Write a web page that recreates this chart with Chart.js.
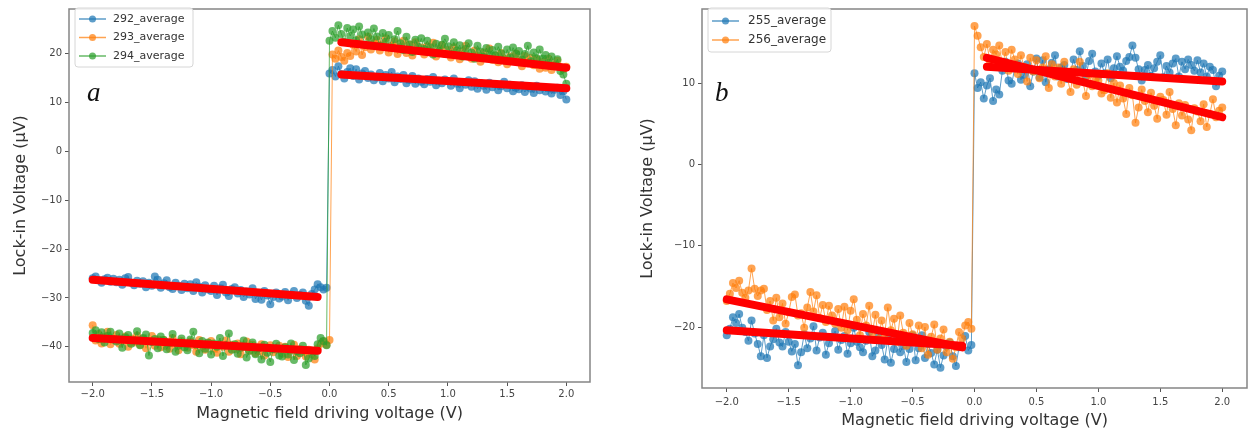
<!DOCTYPE html>
<html>
<head>
<meta charset="utf-8">
<script src="https://cdn.jsdelivr.net/npm/chart.js@4.4.0/dist/chart.umd.min.js"></script>
<style>
  html, body { margin: 0; padding: 0; background: #fff; }
  #wrap { position: relative; width: 1253px; height: 436px; }
  #painel-a { position: absolute; left: 0; top: 0; }
  #painel-b { position: absolute; left: 630px; top: 0; }
</style>
</head>
<body>
<div id="wrap">
  <canvas id="painel-a" width="610" height="436"></canvas>
  <canvas id="painel-b" width="623" height="436"></canvas>
</div>
<script>
// tensão de varredura do campo (V)
const campo = [
  -2.000, -1.975, -1.950, -1.925, -1.900, -1.875, -1.850, -1.825,
  -1.800, -1.775, -1.750, -1.725, -1.700, -1.675, -1.650, -1.625,
  -1.600, -1.575, -1.550, -1.525, -1.500, -1.475, -1.450, -1.425,
  -1.400, -1.375, -1.350, -1.325, -1.300, -1.275, -1.250, -1.225,
  -1.200, -1.175, -1.150, -1.125, -1.100, -1.075, -1.050, -1.025,
  -1.000, -0.975, -0.950, -0.925, -0.900, -0.875, -0.850, -0.825,
  -0.800, -0.775, -0.750, -0.725, -0.700, -0.675, -0.650, -0.625,
  -0.600, -0.575, -0.550, -0.525, -0.500, -0.475, -0.450, -0.425,
  -0.400, -0.375, -0.350, -0.325, -0.300, -0.275, -0.250, -0.225,
  -0.200, -0.175, -0.150, -0.125, -0.100, -0.075, -0.050, -0.025,
  0.000, 0.025, 0.050, 0.075, 0.100, 0.125, 0.150, 0.175,
  0.200, 0.225, 0.250, 0.275, 0.300, 0.325, 0.350, 0.375,
  0.400, 0.425, 0.450, 0.475, 0.500, 0.525, 0.550, 0.575,
  0.600, 0.625, 0.650, 0.675, 0.700, 0.725, 0.750, 0.775,
  0.800, 0.825, 0.850, 0.875, 0.900, 0.925, 0.950, 0.975,
  1.000, 1.025, 1.050, 1.075, 1.100, 1.125, 1.150, 1.175,
  1.200, 1.225, 1.250, 1.275, 1.300, 1.325, 1.350, 1.375,
  1.400, 1.425, 1.450, 1.475, 1.500, 1.525, 1.550, 1.575,
  1.600, 1.625, 1.650, 1.675, 1.700, 1.725, 1.750, 1.775,
  1.800, 1.825, 1.850, 1.875, 1.900, 1.925, 1.950, 1.975,
  2.000
];

// painel a — tensão lock-in (µV)
const m292 = [
  -26.0, -25.6, -26.4, -26.9, -26.2, -25.9, -26.7, -26.1,
  -26.8, -26.3, -27.3, -26.0, -25.7, -26.9, -27.4, -26.5,
  -27.1, -26.6, -27.8, -26.9, -27.5, -25.6, -26.3, -27.9,
  -27.0, -26.4, -27.8, -28.2, -26.9, -27.5, -28.4, -27.1,
  -28.0, -27.2, -28.6, -26.8, -27.7, -28.9, -27.4, -28.3,
  -28.6, -27.5, -29.4, -28.0, -27.3, -28.9, -29.6, -28.2,
  -27.8, -29.1, -28.4, -29.8, -28.7, -29.3, -28.0, -30.2,
  -29.0, -30.4, -28.6, -29.5, -31.3, -29.8, -28.9, -30.1,
  -29.7, -28.8, -30.5, -29.3, -28.6, -30.0, -29.4, -28.9,
  -30.6, -31.6, -29.2, -28.3, -27.2, -27.8, -28.3, -27.9,
  15.9, 16.6, 15.3, 17.4, 15.8, 14.9, 16.2, 17.0,
  15.4, 16.8, 14.7, 15.9, 16.4, 15.0, 15.7, 14.5,
  15.1, 16.0, 14.3, 15.6, 14.9, 16.2, 14.1, 15.3,
  14.8, 15.6, 13.9, 14.6, 15.4, 13.8, 14.9, 14.2,
  13.7, 14.8, 14.2, 15.2, 13.5, 14.4, 13.9, 14.7,
  14.3, 13.4, 14.9, 13.8, 12.9, 14.1, 13.6, 14.5,
  13.2, 14.3, 12.8, 13.9, 13.4, 12.6, 14.0, 13.1,
  13.7, 12.5, 13.3, 14.2, 12.9, 13.6, 12.3, 13.0,
  12.7, 13.5, 12.1, 13.2, 12.8, 11.9, 13.4, 12.5,
  13.1, 12.2, 12.9, 11.8, 12.6, 13.0, 11.5, 12.3,
  10.6
];
const m293 = [
  -35.6, -38.7, -37.4, -39.3, -38.0, -36.9, -39.5, -38.3,
  -37.6, -39.4, -38.8, -37.9, -40.0, -38.3, -39.1, -37.7,
  -39.6, -38.4, -40.3, -38.9, -37.8, -39.8, -38.5, -40.1,
  -38.6, -39.9, -40.4, -38.2, -39.5, -40.7, -38.8, -39.4,
  -40.2, -38.9, -39.7, -41.0, -38.6, -39.9, -40.6, -39.2,
  -38.8, -40.4, -41.2, -39.5, -40.0, -38.7, -41.0, -39.6,
  -40.5, -39.3, -41.5, -40.1, -38.9, -40.8, -39.6, -41.3,
  -40.9, -39.5, -41.8, -40.2, -39.7, -41.1, -40.6, -39.8,
  -41.4, -40.0, -42.1, -40.7, -39.6, -41.9, -40.5, -41.0,
  -42.0, -40.6, -41.5, -42.6, -40.3, -39.4, -38.9, -39.6,
  -38.6, 19.8, 18.9, 20.6, 19.3, 18.5, 20.1, 19.5,
  21.8, 20.4, 22.9, 19.7, 21.3, 23.4, 20.8, 22.1,
  22.8, 20.6, 21.9, 23.1, 20.2, 21.6, 22.5, 19.9,
  21.4, 22.6, 20.1, 21.8, 19.6, 22.3, 20.7, 21.2,
  19.8, 21.5, 20.6, 22.2, 19.4, 20.9, 21.7, 19.9,
  20.7, 19.2, 21.3, 20.1, 18.8, 20.5, 21.6, 19.4,
  18.9, 20.6, 19.5, 18.3, 20.2, 19.0, 21.0, 18.7,
  19.6, 18.2, 20.1, 18.9, 17.8, 19.4, 18.5, 20.0,
  18.6, 17.4, 19.5, 18.0, 19.1, 17.6, 18.8, 16.9,
  18.3, 17.1, 18.9, 16.6, 17.8, 18.5, 17.2, 16.8,
  17.3
];
const m294 = [
  -37.2, -36.6, -38.4, -37.0, -39.1, -37.8, -36.9, -38.5,
  -38.9, -37.3, -40.2, -38.1, -37.6, -39.4, -38.7, -36.8,
  -39.7, -38.2, -37.5, -41.8, -39.0, -38.4, -40.3, -37.9,
  -38.6, -40.5, -39.2, -37.4, -41.0, -39.8, -38.3, -40.1,
  -40.7, -38.5, -36.9, -39.6, -41.3, -38.8, -40.4, -39.1,
  -41.6, -39.3, -40.0, -38.2, -41.9, -39.7, -37.3, -40.6,
  -39.5, -41.4, -40.2, -38.7, -42.2, -40.8, -39.1, -41.5,
  -40.3, -42.6, -39.6, -41.2, -43.1, -40.5, -39.4, -41.8,
  -42.0, -40.1, -41.6, -39.3, -42.7, -40.9, -41.3, -39.8,
  -43.7, -42.4, -40.8, -41.9, -39.5, -38.2, -38.8, -39.7,
  22.6, 24.6, 23.2, 25.8, 24.0, 22.4, 25.2, 23.6,
  24.9, 22.7, 25.5, 23.9, 21.8, 24.3, 22.9, 25.1,
  23.5, 21.6, 24.2, 22.4, 23.8, 21.2, 22.9, 24.6,
  22.1, 20.7, 23.4, 21.9, 20.3, 22.8, 21.4, 23.1,
  20.9, 22.6, 21.3, 19.8, 22.0, 20.5, 21.8, 23.0,
  21.5, 19.9, 22.3, 20.6, 21.7, 19.4, 20.9, 22.1,
  20.2, 18.9, 21.6, 20.4, 19.3, 21.1, 19.8, 20.7,
  19.6, 21.4, 20.0, 18.6, 20.8, 19.2, 21.2, 19.9,
  20.5, 18.7, 19.9, 21.6, 18.4, 20.2, 19.0, 20.8,
  18.9, 19.7, 18.1, 19.4, 17.5, 18.8, 16.4, 15.7,
  13.8
];

// painel b
const m255 = [
  -21.0, -20.2, -18.8, -19.5, -18.4, -20.1, -20.6, -21.7,
  -19.2, -20.8, -22.1, -23.6, -21.0, -23.8, -22.4, -21.5,
  -20.2, -21.9, -22.4, -20.6, -21.8, -23.0, -22.1, -24.7,
  -23.1, -20.9, -22.6, -21.4, -19.9, -22.9, -21.3, -20.7,
  -23.4, -22.0, -21.2, -20.5, -22.8, -21.6, -21.1, -23.3,
  -22.0, -20.1, -21.8, -22.5, -23.1, -21.7, -20.6, -23.6,
  -22.9, -20.8, -22.2, -24.0, -21.5, -24.4, -22.7, -21.4,
  -23.1, -22.3, -24.3, -22.7, -21.0, -24.1, -22.6, -21.0,
  -23.8, -22.1, -23.2, -24.6, -22.8, -25.0, -23.5, -22.4,
  -21.9, -23.6, -24.8, -22.5, -22.4, -21.1, -22.9, -22.2,
  11.2, 9.4, 10.1, 8.1, 9.7, 10.6, 7.8, 9.2,
  8.6, 11.5, 12.6, 10.3, 9.9, 11.8, 12.4, 10.4,
  11.0, 12.3, 9.6, 11.4, 13.0, 10.7, 12.8, 10.1,
  11.7, 12.5, 13.4, 10.8, 11.9, 12.2, 10.5, 11.3,
  12.9, 11.6, 13.9, 12.1, 10.9, 12.7, 13.6, 11.4,
  10.9, 12.4, 11.2, 12.9, 10.6, 11.8, 13.3, 12.0,
  11.5, 12.7, 13.2, 14.6, 13.1, 11.7, 10.3, 11.6,
  12.2, 10.9, 11.8, 12.6, 13.4, 10.7, 12.1, 11.3,
  12.4, 13.0, 10.8, 12.6, 11.7, 12.9, 12.2, 11.5,
  12.8, 11.3, 12.4, 10.8, 12.0, 11.6, 9.6, 10.9,
  11.4
];
const m256 = [
  -16.8, -15.9, -14.6, -15.2, -14.3, -15.8, -16.4, -15.5,
  -12.8, -15.3, -16.2, -15.5, -15.3, -17.9, -16.8, -19.2,
  -16.4, -18.8, -17.1, -19.6, -18.2, -16.3, -16.0, -18.6,
  -18.3, -20.1, -17.6, -15.7, -18.1, -16.1, -18.9, -17.3,
  -19.4, -17.4, -18.6, -19.6, -17.8, -20.1, -17.5, -20.4,
  -18.0, -16.6, -19.1, -21.0, -18.4, -19.8, -17.4, -20.7,
  -18.5, -21.5, -19.2, -20.9, -17.6, -20.4, -19.0, -21.8,
  -18.6, -20.7, -22.3, -19.5, -20.9, -21.6, -19.8, -22.6,
  -20.0, -23.4, -21.2, -19.7, -22.8, -21.4, -20.3, -23.1,
  -21.8, -23.9, -22.5, -20.6, -21.4, -19.8, -19.4, -20.2,
  17.0, 15.8, 14.4, 13.2, 14.8, 12.7, 14.1, 13.5,
  14.6, 12.2, 13.8, 11.5, 14.1, 12.9, 11.1, 13.4,
  12.0, 10.2, 13.1, 11.4, 12.8, 10.6, 11.9, 13.3,
  9.4, 12.3, 10.8, 11.9, 9.9, 12.6, 10.6, 8.9,
  11.7, 9.8, 12.6, 10.2, 8.4, 11.0, 9.6, 10.3,
  10.3, 8.7, 9.1, 11.2, 8.2, 10.0, 7.6, 9.7,
  8.1, 6.2, 9.4, 8.5, 5.1, 7.0, 9.2, 7.8,
  6.4, 8.8, 7.2, 5.6, 8.3, 7.9, 6.1, 8.9,
  6.8, 4.8, 7.5, 6.0, 7.3, 5.5, 4.2, 6.9,
  6.5, 5.3, 7.4, 4.6, 6.2, 8.0, 5.8, 6.6,
  7.0
];

// ajustes lineares (extremos de cada ramo)
const ramoNeg = [-2.0, -0.1];
const ramoPos = [0.1, 2.0];
const ajusteA = [
  [ramoNeg, [-26.3, -29.8]],
  [ramoNeg, [-38.2, -40.8]],
  [ramoPos, [15.7, 12.9]],
  [ramoPos, [22.3, 17.1]]
];
const ajusteB = [
  [ramoNeg, [-20.4, -22.3]],
  [ramoNeg, [-16.6, -22.5]],
  [ramoPos, [12.0, 10.2]],
  [ramoPos, [13.1, 5.8]]
];

const ticksX = [-2.0, -1.5, -1.0, -0.5, 0.0, 0.5, 1.0, 1.5, 2.0];
const ticksYA = [-40, -30, -20, -10, 0, 10, 20];
const ticksYB = [-20, -10, 0, 10];

const COR = {
  azul: 'rgba(31,119,180,0.72)',
  laranja: 'rgba(255,127,14,0.72)',
  verde: 'rgba(44,160,44,0.72)',
  vermelho: '#ff0000',
};

Chart.defaults.font.family = "'DejaVu Sans', sans-serif";
Chart.defaults.animation = false;

const fmt = (v, d) => (v < 0 ? '\u2212' : '') + Math.abs(v).toFixed(d);

function serie(label, cor, ys, ordem) {
  return {
    label,
    data: campo.map((x, i) => ({ x, y: ys[i] })),
    showLine: true,
    borderColor: cor,
    backgroundColor: cor,
    borderWidth: 1,
    pointRadius: 4,
    pointHoverRadius: 4,
    pointBorderWidth: 0,
    order: ordem,
  };
}

function ajuste([xs, ys]) {
  return {
    label: '',
    data: xs.map((x, i) => ({ x, y: ys[i] })),
    showLine: true,
    borderColor: COR.vermelho,
    borderWidth: 8,
    borderCapStyle: 'round',
    pointRadius: 0,
    order: 0,
  };
}

// moldura completa em volta da área do gráfico
const moldura = {
  id: 'moldura',
  afterDatasetsDraw(chart) {
    const { ctx, chartArea: a } = chart;
    ctx.save();
    ctx.strokeStyle = '#858585';
    ctx.lineWidth = 1.5;
    ctx.strokeRect(a.left, a.top, a.right - a.left, a.bottom - a.top);
    ctx.restore();
  }
};

// legenda no estilo matplotlib + letra do painel
const legenda = {
  id: 'legenda',
  afterDraw(chart, args, o) {
    const ctx = chart.ctx;
    const itens = chart.data.datasets.filter(d => d.label);
    ctx.save();
    ctx.fillStyle = 'rgba(255,255,255,0.85)';
    ctx.strokeStyle = '#d6d6d6';
    ctx.lineWidth = 1;
    ctx.beginPath();
    ctx.roundRect(o.x, o.y, o.w, o.h, 3);
    ctx.fill();
    ctx.stroke();
    ctx.font = o.fonte + "px 'DejaVu Sans'";
    ctx.textBaseline = 'middle';
    itens.forEach((d, i) => {
      const y = o.y + o.primeiro + i * o.passo;
      ctx.strokeStyle = d.borderColor;
      ctx.lineWidth = 1.5;
      ctx.beginPath();
      ctx.moveTo(o.x + 4, y);
      ctx.lineTo(o.x + 31, y);
      ctx.stroke();
      ctx.fillStyle = d.backgroundColor;
      ctx.beginPath();
      ctx.arc(o.x + 17.5, y, 3.5, 0, Math.PI * 2);
      ctx.fill();
      ctx.fillStyle = '#333';
      ctx.fillText(d.label, o.x + o.texto, y);
    });
    ctx.font = "italic 27px 'Liberation Serif'";
    ctx.fillStyle = '#111';
    ctx.textBaseline = 'alphabetic';
    ctx.fillText(o.letra, o.lx, o.ly);
    ctx.restore();
  }
};

function opcoes(cfg) {
  return {
    responsive: false,
    animation: false,
    layout: { padding: { top: cfg.topo, right: cfg.direita, bottom: 0, left: 0 } },
    plugins: {
      legend: { display: false },
      tooltip: { enabled: false },
      legenda: cfg.legenda,
    },
    scales: {
      x: {
        type: 'linear',
        min: -2.2,
        max: 2.2,
        afterBuildTicks: s => { s.ticks = ticksX.map(v => ({ value: v })); },
        afterFit: s => { s.height = cfg.alturaX; },
        grid: { display: true, drawOnChartArea: false, drawTicks: true, tickLength: 4, color: '#555' },
        border: { display: false },
        ticks: { autoSkip: false, maxRotation: 0, padding: cfg.padX, color: '#444', font: { size: 10 }, callback: v => fmt(v, 1) },
        title: { display: true, text: 'Magnetic field driving voltage (V)', color: '#333', font: { size: 16 }, padding: { top: 0, bottom: cfg.tituloX } },
      },
      y: {
        type: 'linear',
        min: cfg.yMin,
        max: cfg.yMax,
        afterBuildTicks: s => { s.ticks = cfg.ticksY.map(v => ({ value: v })); },
        afterFit: s => { s.width = cfg.larguraY; },
        grid: { display: true, drawOnChartArea: false, drawTicks: true, tickLength: 4, color: '#555' },
        border: { display: false },
        ticks: { autoSkip: false, padding: 3, color: '#444', font: { size: 10 }, callback: v => fmt(v, 0) },
        title: { display: true, text: 'Lock-in Voltage (\u03bcV)', color: '#333', font: { size: 16 }, padding: { top: cfg.tituloY, bottom: 0 } },
      },
    },
  };
}

new Chart(document.getElementById('painel-a'), {
  type: 'scatter',
  data: {
    datasets: [
      serie('292_average', COR.azul, m292, 3),
      serie('293_average', COR.laranja, m293, 2),
      serie('294_average', COR.verde, m294, 1),
      ...ajusteA.map(ajuste),
    ],
  },
  options: opcoes({
    topo: 2, direita: 20, alturaX: 54, larguraY: 69, padX: 2, tituloX: 13, tituloY: 11,
    yMin: -47.2, yMax: 29.1, ticksY: ticksYA,
    legenda: { x: 75, y: 8, w: 118, h: 59, primeiro: 11, passo: 18.5, texto: 38, fonte: 11, letra: 'a', lx: 87, ly: 101 },
  }),
  plugins: [moldura, legenda],
});

new Chart(document.getElementById('painel-b'), {
  type: 'scatter',
  data: {
    datasets: [
      serie('255_average', COR.azul, m255, 2),
      serie('256_average', COR.laranja, m256, 1),
      ...ajusteB.map(ajuste),
    ],
  },
  options: opcoes({
    topo: 5, direita: 6, alturaX: 48, larguraY: 72, padX: 4, tituloX: 6, tituloY: 8,
    yMin: -27.5, yMax: 19.1, ticksY: ticksYB,
    legenda: { x: 78, y: 8, w: 123, h: 44, primeiro: 13, passo: 19, texto: 40, fonte: 12, letra: 'b', lx: 85, ly: 101 },
  }),
  plugins: [moldura, legenda],
});
</script>
</body>
</html>
